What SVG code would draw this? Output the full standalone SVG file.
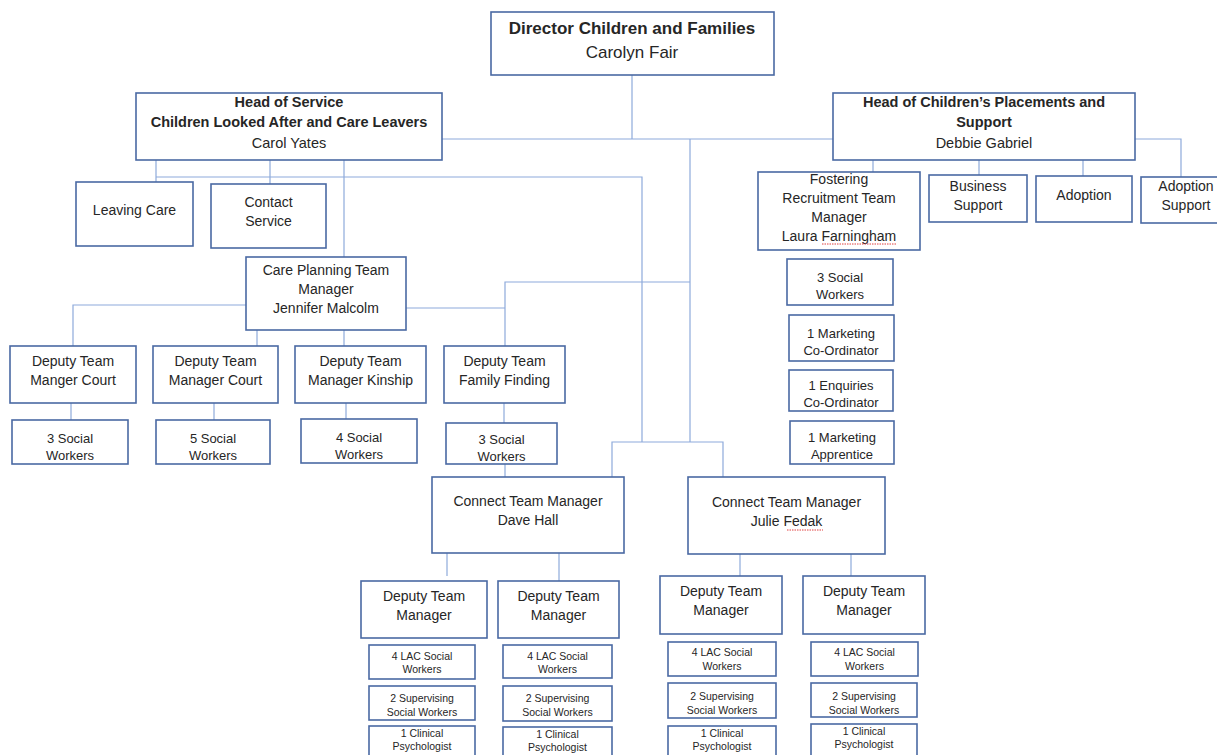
<svg xmlns="http://www.w3.org/2000/svg" width="1217" height="755" viewBox="0 0 1217 755">
<style>
.box{fill:#fff;stroke:#4a69a3;stroke-width:1.6}
.conn{stroke:#8eaadb;stroke-width:1.2;fill:none}
text{font-family:"Liberation Sans",Arial,sans-serif;fill:#262626;text-anchor:middle}
.t17{font-size:17px}
.t145{font-size:14.5px}
.t14{font-size:14px}
.t13{font-size:13px}
.t10{font-size:10.5px}
.b{font-weight:bold}
.sq{stroke:#e04040;stroke-width:1;fill:none;stroke-dasharray:1.5 1}
</style>
<rect width="1217" height="755" fill="#fff"/>
<g id="connectors" class="conn">
<path d="M632 75V139"/>
<path d="M442 139H833"/>
<path d="M1135 139H1181V177"/>
<path d="M690 139V442"/>
<path d="M612 477V442H723V477"/>
<path d="M156 160V182"/>
<path d="M270 160V184"/>
<path d="M344 160V257"/>
<path d="M156 177H642V442"/>
<path d="M505 346V282H690"/>
<path d="M406 308H505"/>
<path d="M246 305H73V346"/>
<path d="M257 330V346"/>
<path d="M344 330V346"/>
<path d="M71 403V420"/>
<path d="M214 403V420"/>
<path d="M346 403V419"/>
<path d="M504 403V423"/>
<path d="M505 464V477"/>
<path d="M447 553V576"/>
<path d="M559 553V581"/>
<path d="M740 554V576"/>
<path d="M851 554V576"/>
<path d="M873 160V172"/>
<path d="M979 160V175"/>
<path d="M1083 160V176"/>
</g>
<g id="director"><rect class="box" x="491" y="12" width="283" height="63"/><text class="t17 b" x="632" y="34">Director Children and Families</text><text class="t17" x="632" y="58">Carolyn Fair</text></g>
<g id="hos-cla"><rect class="box" x="136" y="93" width="306" height="67"/><text class="t145 b" x="289" y="107">Head of Service</text><text class="t145 b" x="289" y="127">Children Looked After and Care Leavers</text><text class="t145" x="289" y="148">Carol Yates</text></g>
<g id="hos-placements"><rect class="box" x="833" y="93" width="302" height="67"/><text class="t145 b" x="984" y="107">Head of Children’s Placements and</text><text class="t145 b" x="984" y="127">Support</text><text class="t145" x="984" y="148">Debbie Gabriel</text></g>
<g id="leaving-care"><rect class="box" x="76" y="182" width="117" height="64"/><text class="t14" x="134.5" y="215">Leaving Care</text></g>
<g id="contact-service"><rect class="box" x="211" y="184" width="115" height="64"/><text class="t14" x="268.5" y="207">Contact</text><text class="t14" x="268.5" y="226">Service</text></g>
<g id="care-planning"><rect class="box" x="246" y="257" width="160" height="73"/><text class="t14" x="326" y="275">Care Planning Team</text><text class="t14" x="326" y="294">Manager</text><text class="t14" x="326" y="313">Jennifer Malcolm</text></g>
<g id="dtm-court-1"><rect class="box" x="10" y="346" width="126" height="57"/><text class="t14" x="73" y="366">Deputy Team</text><text class="t14" x="73" y="385">Manger Court</text></g>
<g id="dtm-court-2"><rect class="box" x="153" y="346" width="125" height="57"/><text class="t14" x="215.5" y="366">Deputy Team</text><text class="t14" x="215.5" y="385">Manager Court</text></g>
<g id="dtm-kinship"><rect class="box" x="295" y="346" width="131" height="57"/><text class="t14" x="360.5" y="366">Deputy Team</text><text class="t14" x="360.5" y="385">Manager Kinship</text></g>
<g id="dtm-family-finding"><rect class="box" x="444" y="346" width="121" height="57"/><text class="t14" x="504.5" y="366">Deputy Team</text><text class="t14" x="504.5" y="385">Family Finding</text></g>
<g id="sw-court-1"><rect class="box" x="12" y="420" width="116" height="44"/><text class="t13" x="70" y="443">3 Social</text><text class="t13" x="70" y="460">Workers</text></g>
<g id="sw-court-2"><rect class="box" x="156" y="420" width="114" height="44"/><text class="t13" x="213" y="443">5 Social</text><text class="t13" x="213" y="460">Workers</text></g>
<g id="sw-kinship"><rect class="box" x="301" y="419" width="116" height="44"/><text class="t13" x="359" y="442">4 Social</text><text class="t13" x="359" y="459">Workers</text></g>
<g id="sw-family-finding"><rect class="box" x="446" y="423" width="111" height="41"/><text class="t13" x="501.5" y="444">3 Social</text><text class="t13" x="501.5" y="461">Workers</text></g>
<g id="connect-dave"><rect class="box" x="432" y="477" width="192" height="76"/><text class="t14" x="528" y="506">Connect Team Manager</text><text class="t14" x="528" y="525">Dave Hall</text></g>
<g id="connect-julie"><rect class="box" x="688" y="477" width="197" height="77"/><text class="t14" x="786.5" y="507">Connect Team Manager</text><text class="t14" x="786.5" y="526">Julie Fedak</text><path class="sq" d="M787 530H823"/></g>
<g id="fostering"><rect class="box" x="758" y="172" width="162" height="78"/><text class="t14" x="839" y="184">Fostering</text><text class="t14" x="839" y="203">Recruitment Team</text><text class="t14" x="839" y="222">Manager</text><text class="t14" x="839" y="241">Laura Farningham</text><path class="sq" d="M822 244H897"/></g>
<g id="business-support"><rect class="box" x="929" y="175" width="98" height="47"/><text class="t14" x="978" y="191">Business</text><text class="t14" x="978" y="210">Support</text></g>
<g id="adoption"><rect class="box" x="1036" y="176" width="96" height="46"/><text class="t14" x="1084" y="200">Adoption</text></g>
<g id="adoption-support"><rect class="box" x="1141" y="177" width="92" height="46"/><text class="t14" x="1186" y="191">Adoption</text><text class="t14" x="1186" y="210">Support</text></g>
<g id="fr-sw"><rect class="box" x="787" y="259" width="106" height="46"/><text class="t13" x="840" y="282">3 Social</text><text class="t13" x="840" y="299">Workers</text></g>
<g id="fr-marketing"><rect class="box" x="789" y="315" width="105" height="46"/><text class="t13" x="841" y="338">1 Marketing</text><text class="t13" x="841" y="355">Co-Ordinator</text></g>
<g id="fr-enquiries"><rect class="box" x="789" y="370" width="104" height="41"/><text class="t13" x="841" y="390">1 Enquiries</text><text class="t13" x="841" y="407">Co-Ordinator</text></g>
<g id="fr-apprentice"><rect class="box" x="790" y="421" width="104" height="43"/><text class="t13" x="842" y="442">1 Marketing</text><text class="t13" x="842" y="459">Apprentice</text></g>
<g id="dh-dtm-1"><rect class="box" x="361" y="581" width="126" height="57"/><text class="t14" x="424" y="601">Deputy Team</text><text class="t14" x="424" y="620">Manager</text></g>
<g id="dh-dtm-2"><rect class="box" x="498" y="581" width="121" height="57"/><text class="t14" x="558.5" y="601">Deputy Team</text><text class="t14" x="558.5" y="620">Manager</text></g>
<g id="jf-dtm-1"><rect class="box" x="660" y="576" width="122" height="58"/><text class="t14" x="721" y="596">Deputy Team</text><text class="t14" x="721" y="615">Manager</text></g>
<g id="jf-dtm-2"><rect class="box" x="803" y="576" width="122" height="58"/><text class="t14" x="864" y="596">Deputy Team</text><text class="t14" x="864" y="615">Manager</text></g>
<g id="dh1-lac"><rect class="box" x="369" y="645" width="106" height="34"/><text class="t10" x="422" y="660">4 LAC Social</text><text class="t10" x="422" y="673">Workers</text></g>
<g id="dh2-lac"><rect class="box" x="503" y="645" width="109" height="33"/><text class="t10" x="557.5" y="660">4 LAC Social</text><text class="t10" x="557.5" y="673">Workers</text></g>
<g id="jf1-lac"><rect class="box" x="668" y="642" width="108" height="34"/><text class="t10" x="722" y="656">4 LAC Social</text><text class="t10" x="722" y="670">Workers</text></g>
<g id="jf2-lac"><rect class="box" x="811" y="642" width="107" height="34"/><text class="t10" x="864.5" y="656">4 LAC Social</text><text class="t10" x="864.5" y="670">Workers</text></g>
<g id="dh1-sup"><rect class="box" x="369" y="686" width="106" height="34"/><text class="t10" x="422" y="702">2 Supervising</text><text class="t10" x="422" y="716">Social Workers</text></g>
<g id="dh2-sup"><rect class="box" x="503" y="686" width="109" height="35"/><text class="t10" x="557.5" y="702">2 Supervising</text><text class="t10" x="557.5" y="716">Social Workers</text></g>
<g id="jf1-sup"><rect class="box" x="668" y="683" width="108" height="35"/><text class="t10" x="722" y="700">2 Supervising</text><text class="t10" x="722" y="714">Social Workers</text></g>
<g id="jf2-sup"><rect class="box" x="811" y="683" width="106" height="34"/><text class="t10" x="864" y="700">2 Supervising</text><text class="t10" x="864" y="714">Social Workers</text></g>
<g id="dh1-psy"><rect class="box" x="369" y="726" width="106" height="34"/><text class="t10" x="422" y="737">1 Clinical</text><text class="t10" x="422" y="750">Psychologist</text></g>
<g id="dh2-psy"><rect class="box" x="503" y="727" width="109" height="34"/><text class="t10" x="557.5" y="738">1 Clinical</text><text class="t10" x="557.5" y="751">Psychologist</text></g>
<g id="jf1-psy"><rect class="box" x="668" y="726" width="108" height="34"/><text class="t10" x="722" y="737">1 Clinical</text><text class="t10" x="722" y="750">Psychologist</text></g>
<g id="jf2-psy"><rect class="box" x="811" y="724" width="106" height="36"/><text class="t10" x="864" y="735">1 Clinical</text><text class="t10" x="864" y="748">Psychologist</text></g>
</svg>
